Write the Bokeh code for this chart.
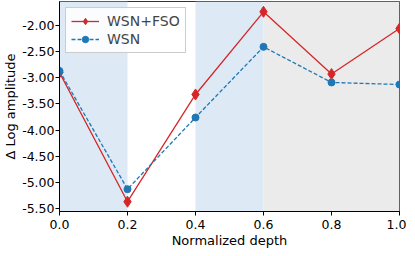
from bokeh.plotting import figure
from bokeh.models import BoxAnnotation, Range1d, FixedTicker, PrintfTickFormatter, Legend
from bokeh.embed import file_html
from bokeh.resources import INLINE

depth = [0.0, 0.2, 0.4, 0.6, 0.8, 1.0]
wsn_fso = [-2.90, -5.37, -3.32, -1.74, -2.93, -2.06]
wsn = [-2.87, -5.13, -3.76, -2.41, -3.09, -3.13]
x_ticks = [0.0, 0.2, 0.4, 0.6, 0.8, 1.0]
y_ticks = [-5.5, -5.0, -4.5, -4.0, -3.5, -3.0, -2.5, -2.0]
blue_bands = [(0.0, 0.2), (0.4, 0.6)]
gray_band = (0.6, 1.0)

FONT = "DejaVu Sans"

p = figure(frame_width=340, frame_height=210, output_backend="svg", toolbar_location=None,
           x_range=Range1d(0, 1), y_range=Range1d(-5.557, -1.543),
           min_border_left=50, min_border_right=7, min_border_top=1, min_border_bottom=32)

for a, b in blue_bands:
    p.add_layout(BoxAnnotation(left=a, right=b, fill_color="#dde9f4", fill_alpha=1.0, line_alpha=0, level="underlay"))
p.add_layout(BoxAnnotation(left=gray_band[0], right=gray_band[1], fill_color="#ebebeb", fill_alpha=1.0, line_alpha=0, level="underlay"))

red = "#d62728"
blue = "#1f77b4"
l1 = p.line(depth, wsn_fso, line_color=red, line_width=1.3)
s1 = p.scatter(depth, wsn_fso, marker="diamond", size=11, fill_color=red, line_color=red)
l2 = p.line(depth, wsn, line_color=blue, line_width=1.3, line_dash="4 2")
s2 = p.scatter(depth, wsn, marker="circle", size=7, fill_color=blue, line_color=blue)

legend = Legend(items=[("WSN+FSO", [l1, s1]), ("WSN", [l2, s2])], location="top_left",
                label_text_font=FONT, label_text_font_size="14px", border_line_color="#cccccc",
                border_line_alpha=1, background_fill_alpha=0.85, margin=6, padding=5, spacing=2,
                glyph_width=28, label_height=16, glyph_height=16, label_standoff=8)
p.add_layout(legend)

p.xgrid.visible = False
p.ygrid.visible = False
p.outline_line_color = "#333333"
p.outline_line_width = 1

p.xaxis.ticker = FixedTicker(ticks=x_ticks)
p.yaxis.ticker = FixedTicker(ticks=y_ticks)
p.xaxis.formatter = PrintfTickFormatter(format="%.1f")
p.yaxis.formatter = PrintfTickFormatter(format="%.2f")
p.xaxis.axis_label = "Normalized depth"
p.yaxis.axis_label = "Δ Log amplitude"
for ax in (p.xaxis[0], p.yaxis[0]):
    ax.axis_label_text_font = FONT
    ax.axis_label_text_font_size = "13px"
    ax.axis_label_text_font_style = "normal"
    ax.major_label_text_font = FONT
    ax.major_label_text_font_size = "12.5px"
    ax.minor_tick_line_color = None
    ax.major_tick_out = 4
    ax.major_tick_in = 0
    ax.axis_line_color = "black"
    ax.major_tick_line_color = "black"
    ax.major_label_text_color = "black"
    ax.axis_label_text_color = "black"
    ax.axis_label_standoff = 1
p.xaxis.major_label_standoff = 4
p.yaxis.major_label_standoff = 1

open("out.html", "w").write(file_html(p, INLINE))
